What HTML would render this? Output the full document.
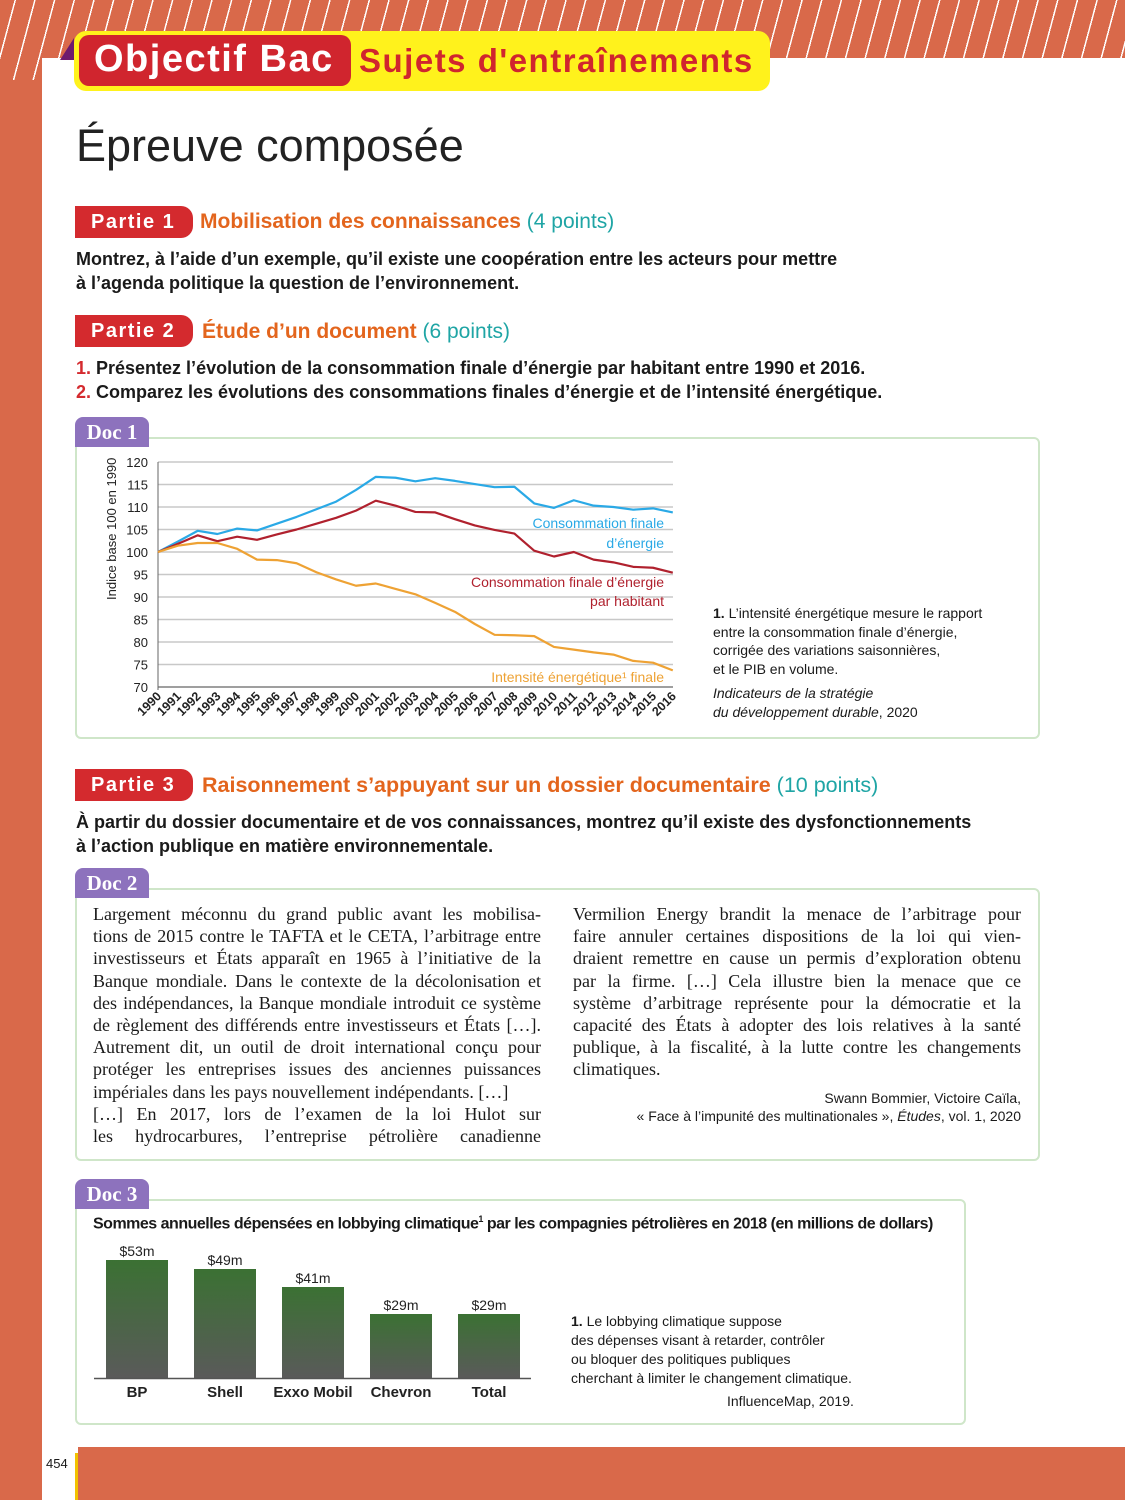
<!DOCTYPE html>
<html><head><meta charset="utf-8"><style>
*{margin:0;padding:0;box-sizing:border-box}
body{width:1125px;height:1500px;position:relative;overflow:hidden;background:#d9694a;font-family:"Liberation Sans",sans-serif;color:#1a1a1a}
.stripes{position:absolute;left:0;top:0;width:1125px;height:90px;background:repeating-linear-gradient(105deg,#d9694a 0 14px,#fff 14px 15.5px,#d9694a 15.5px 19px)}
.leftstripes{position:absolute;left:0;top:0;width:42px;height:80px;background:repeating-linear-gradient(105deg,#d9694a 0 14px,#fff 14px 15.5px,#d9694a 15.5px 19px)}
.page{position:absolute;left:42px;top:58px;width:1083px;height:1389px;background:#fff}
.a{position:absolute;white-space:nowrap}
.part{position:absolute;background:#d42a2e;color:#fff;font-weight:bold;font-size:20px;letter-spacing:1.5px;border-radius:0 12px 12px 0;padding-left:16px;line-height:32px;width:118px;height:32px}
.ptitle{color:#e3651d;font-weight:bold;font-size:21px}
.pts{color:#1fa5a5;font-weight:normal}
.q{font-size:18px;font-weight:bold;color:#1a1a1a}
.doc{position:absolute;background:#8d72bd;color:#fff;font-family:"Liberation Serif",serif;font-weight:bold;font-size:21px;border-radius:8px 8px 0 0;width:74px;height:30px;line-height:30px;text-align:center}
.box{position:absolute;border:2px solid #cfe6c9;border-radius:6px}
.col div{text-align:justify;text-align-last:justify;font-family:"Liberation Serif",serif;font-size:18px;line-height:22.2px;white-space:nowrap;overflow:visible}
.col div.l{text-align-last:left}
.small{font-size:14px;font-family:"Liberation Sans",sans-serif}
</style></head><body>
<div class="stripes"></div>
<div class="page"></div>
<div style="position:absolute;left:0;top:0;width:42px;height:1500px;background:#d9694a"></div>
<div class="leftstripes"></div>
<div style="position:absolute;left:0;top:1447px;width:1125px;height:53px;background:#d9694a"></div>
<div style="position:absolute;left:42px;top:1447px;width:36px;height:53px;background:#fff"></div>
<div style="position:absolute;left:75px;top:1453px;width:3px;height:47px;background:#f2c200"></div>
<div class="a" style="left:46px;top:1456px;font-size:13px">454</div>

<!-- header -->
<div style="position:absolute;left:60px;top:38px;width:0;height:0;border-left:14px solid transparent;border-bottom:22px solid #6d1a6e"></div>
<div style="position:absolute;left:74px;top:31px;width:696px;height:60px;background:#fff21c;border-radius:12px"></div>
<div style="position:absolute;left:79px;top:35px;width:272px;height:51px;background:#d0252e;border-radius:10px"></div>
<div class="a" style="left:94px;top:38px;font-size:38px;font-weight:bold;color:#fff;letter-spacing:1.5px">Objectif Bac</div>
<div class="a" style="left:359px;top:42px;font-size:33px;font-weight:bold;color:#d0252e;letter-spacing:1.5px">Sujets d'entraînements</div>

<div class="a" style="left:76px;top:120px;font-size:45px;color:#222">Épreuve composée</div>

<!-- partie 1 -->
<div class="part" style="left:75px;top:206px">Partie 1</div>
<div class="a ptitle" style="left:200px;top:210px">Mobilisation des connaissances <span class="pts">(4 points)</span></div>
<div class="a q" style="left:76px;top:247px;line-height:24px">Montrez, à l’aide d’un exemple, qu’il existe une coopération entre les acteurs pour mettre<br>à l’agenda politique la question de l’environnement.</div>

<div class="part" style="left:75px;top:315px">Partie 2</div>
<div class="a ptitle" style="left:202px;top:320px">Étude d’un document <span class="pts">(6 points)</span></div>
<div class="a q" style="left:76px;top:356px;line-height:24px"><span style="color:#d42a2e">1.</span> Présentez l’évolution de la consommation finale d’énergie par habitant entre 1990 et 2016.<br><span style="color:#d42a2e">2.</span> Comparez les évolutions des consommations finales d’énergie et de l’intensité énergétique.</div>

<div class="box" style="left:75px;top:437px;width:965px;height:302px"></div>
<div class="doc" style="left:75px;top:417px">Doc 1</div>

<svg style="position:absolute;left:0;top:0" width="1125" height="1500">
<g stroke="#c8c8c8" stroke-width="1.5">
<line x1="158" x2="673" y1="462" y2="462"/><line x1="158" x2="673" y1="484.5" y2="484.5"/><line x1="158" x2="673" y1="507" y2="507"/><line x1="158" x2="673" y1="529.5" y2="529.5"/><line x1="158" x2="673" y1="552" y2="552"/><line x1="158" x2="673" y1="574.5" y2="574.5"/><line x1="158" x2="673" y1="597" y2="597"/><line x1="158" x2="673" y1="619.5" y2="619.5"/><line x1="158" x2="673" y1="642" y2="642"/><line x1="158" x2="673" y1="664.5" y2="664.5"/>
</g>
<line x1="158" x2="673" y1="687" y2="687" stroke="#666" stroke-width="1.2"/>
<line x1="158" x2="158" y1="462" y2="690" stroke="#666" stroke-width="1"/>
<g font-family="Liberation Sans" font-size="13" fill="#222" text-anchor="end">
<text x="148" y="467">120</text><text x="148" y="489.5">115</text><text x="148" y="512">110</text><text x="148" y="534.5">105</text><text x="148" y="557">100</text><text x="148" y="579.5">95</text><text x="148" y="602">90</text><text x="148" y="624.5">85</text><text x="148" y="647">80</text><text x="148" y="669.5">75</text><text x="148" y="692">70</text>
</g>
<text transform="translate(116,600) rotate(-90)" font-family="Liberation Sans" font-size="13" fill="#222">Indice base 100 en 1990</text>
<g font-family="Liberation Sans" font-size="12.5" fill="#222" text-anchor="end" font-weight="bold">
<text transform="translate(162,697) rotate(-45)">1990</text><text transform="translate(181.8,697) rotate(-45)">1991</text><text transform="translate(201.6,697) rotate(-45)">1992</text><text transform="translate(221.4,697) rotate(-45)">1993</text><text transform="translate(241.2,697) rotate(-45)">1994</text><text transform="translate(261,697) rotate(-45)">1995</text><text transform="translate(280.8,697) rotate(-45)">1996</text><text transform="translate(300.6,697) rotate(-45)">1997</text><text transform="translate(320.4,697) rotate(-45)">1998</text><text transform="translate(340.2,697) rotate(-45)">1999</text><text transform="translate(360,697) rotate(-45)">2000</text><text transform="translate(379.8,697) rotate(-45)">2001</text><text transform="translate(399.6,697) rotate(-45)">2002</text><text transform="translate(419.4,697) rotate(-45)">2003</text><text transform="translate(439.2,697) rotate(-45)">2004</text><text transform="translate(459,697) rotate(-45)">2005</text><text transform="translate(478.8,697) rotate(-45)">2006</text><text transform="translate(498.6,697) rotate(-45)">2007</text><text transform="translate(518.4,697) rotate(-45)">2008</text><text transform="translate(538.2,697) rotate(-45)">2009</text><text transform="translate(558,697) rotate(-45)">2010</text><text transform="translate(577.8,697) rotate(-45)">2011</text><text transform="translate(597.6,697) rotate(-45)">2012</text><text transform="translate(617.4,697) rotate(-45)">2013</text><text transform="translate(637.2,697) rotate(-45)">2014</text><text transform="translate(657,697) rotate(-45)">2015</text><text transform="translate(676.8,697) rotate(-45)">2016</text>
</g>
<g transform="translate(158,462) scale(19.8,4.5)" fill="none" stroke-width="2.2" stroke-linejoin="round">
<polyline vector-effect="non-scaling-stroke" stroke="#2aa9e6" points="0,20 1,17.7 2,15.3 3,16 4,14.8 5,15.2 6,13.7 7,12.2 8,10.5 9,8.8 10,6.2 11,3.3 12,3.5 13,4.3 14,3.6 15,4.2 16,4.9 17,5.6 18,5.5 19,9.2 20,10.2 21,8.5 22,9.7 23,10 24,10.6 25,10.3 26,11.2"/>
<polyline vector-effect="non-scaling-stroke" stroke="#b0212e" points="0,20 1,18.2 2,16.3 3,17.6 4,16.6 5,17.3 6,16.1 7,15 8,13.7 9,12.4 10,10.8 11,8.6 12,9.7 13,11.1 14,11.2 15,12.7 16,14.1 17,15.1 18,15.9 19,19.7 20,21 21,20 22,21.7 23,22.3 24,23.3 25,23.5 26,24.6"/>
<polyline vector-effect="non-scaling-stroke" stroke="#eea234" points="0,20 1,18.6 2,18 3,18 4,19.3 5,21.7 6,21.8 7,22.5 8,24.5 9,26.1 10,27.5 11,27 12,28.2 13,29.4 14,31.3 15,33.3 16,36 17,38.4 18,38.5 19,38.7 20,41.1 21,41.7 22,42.3 23,42.8 24,44.2 25,44.6 26,46.3"/>
</g>
<g font-family="Liberation Sans" font-size="14" text-anchor="end">
<text x="664" y="528" fill="#2aa9e6">Consommation finale</text><text x="664" y="548" fill="#2aa9e6">d’énergie</text>
<text x="664" y="587" fill="#b0212e">Consommation finale d’énergie</text><text x="664" y="606" fill="#b0212e">par habitant</text>
<text x="664" y="682" fill="#eea234">Intensité énergétique¹ finale</text>
</g>
<!-- bars -->
<defs><linearGradient id="g" x1="0" y1="0" x2="0" y2="1"><stop offset="0" stop-color="#3b7133"/><stop offset="1" stop-color="#5a5a5a"/></linearGradient></defs>
<rect x="106" y="1260" width="62" height="118" fill="url(#g)"/>
<rect x="194" y="1269" width="62" height="109" fill="url(#g)"/>
<rect x="282" y="1287" width="62" height="91" fill="url(#g)"/>
<rect x="370" y="1314" width="62" height="64" fill="url(#g)"/>
<rect x="458" y="1314" width="62" height="64" fill="url(#g)"/>
<line x1="94" x2="531" y1="1378.5" y2="1378.5" stroke="#555" stroke-width="1.5"/>
<g font-family="Liberation Sans" font-size="14" fill="#222" text-anchor="middle">
<text x="137" y="1256">$53m</text><text x="225" y="1265">$49m</text><text x="313" y="1283">$41m</text><text x="401" y="1310">$29m</text><text x="489" y="1310">$29m</text>
</g>
<g font-family="Liberation Sans" font-size="15" font-weight="bold" fill="#222" text-anchor="middle">
<text x="137" y="1397">BP</text><text x="225" y="1397">Shell</text><text x="313" y="1397">Exxo Mobil</text><text x="401" y="1397">Chevron</text><text x="489" y="1397">Total</text>
</g>
</svg>

<div class="a small" style="left:713px;top:604px;line-height:18.5px"><b>1.</b> L’intensité énergétique mesure le rapport<br>entre la consommation finale d’énergie,<br>corrigée des variations saisonnières,<br>et le PIB en volume.</div>
<div class="a small" style="left:713px;top:684px;line-height:19px"><i>Indicateurs de la stratégie<br>du développement durable</i>, 2020</div>

<!-- partie 3 -->
<div class="part" style="left:75px;top:769px">Partie 3</div>
<div class="a ptitle" style="left:202px;top:773px;font-size:21.5px">Raisonnement s’appuyant sur un dossier documentaire <span class="pts">(10 points)</span></div>
<div class="a q" style="left:76px;top:810px;line-height:24px">À partir du dossier documentaire et de vos connaissances, montrez qu’il existe des dysfonctionnements<br>à l’action publique en matière environnementale.</div>

<div class="box" style="left:75px;top:888px;width:965px;height:273px"></div>
<div class="doc" style="left:75px;top:868px">Doc 2</div>
<div class="col" style="position:absolute;left:93px;top:903px;width:448px">
<div>Largement méconnu du grand public avant les mobilisa-</div>
<div>tions de 2015 contre le TAFTA et le CETA, l’arbitrage entre</div>
<div>investisseurs et États apparaît en 1965 à l’initiative de la</div>
<div>Banque mondiale. Dans le contexte de la décolonisation et</div>
<div>des indépendances, la Banque mondiale introduit ce système</div>
<div>de règlement des différends entre investisseurs et États […].</div>
<div>Autrement dit, un outil de droit international conçu pour</div>
<div>protéger les entreprises issues des anciennes puissances</div>
<div class="l">impériales dans les pays nouvellement indépendants. […]</div>
<div>[…] En 2017, lors de l’examen de la loi Hulot sur</div>
<div>les hydrocarbures, l’entreprise pétrolière canadienne</div>
</div>
<div class="col" style="position:absolute;left:573px;top:903px;width:448px">
<div>Vermilion Energy brandit la menace de l’arbitrage pour</div>
<div>faire annuler certaines dispositions de la loi qui vien-</div>
<div>draient remettre en cause un permis d’exploration obtenu</div>
<div>par la firme. […] Cela illustre bien la menace que ce</div>
<div>système d’arbitrage représente pour la démocratie et la</div>
<div>capacité des États à adopter des lois relatives à la santé</div>
<div>publique, à la fiscalité, à la lutte contre les changements</div>
<div class="l">climatiques.</div>
</div>
<div class="a small" style="right:104px;top:1089px;line-height:18px;text-align:right">Swann Bommier, Victoire Caïla,<br>« Face à l’impunité des multinationales », <i>Études</i>, vol. 1, 2020</div>

<div class="box" style="left:75px;top:1199px;width:891px;height:226px"></div>
<div class="doc" style="left:75px;top:1179px">Doc 3</div>
<div class="a" style="left:93px;top:1214px;font-size:16px;font-weight:bold;letter-spacing:-0.5px">Sommes annuelles dépensées en lobbying climatique<sup style="font-size:9px">1</sup> par les compagnies pétrolières en 2018 (en millions de dollars)</div>
<div class="a small" style="left:571px;top:1312px;line-height:19px"><b>1.</b> Le lobbying climatique suppose<br>des dépenses visant à retarder, contrôler<br>ou bloquer des politiques publiques<br>cherchant à limiter le changement climatique.</div>
<div class="a small" style="left:727px;top:1393px">InfluenceMap, 2019.</div>
</body></html>
